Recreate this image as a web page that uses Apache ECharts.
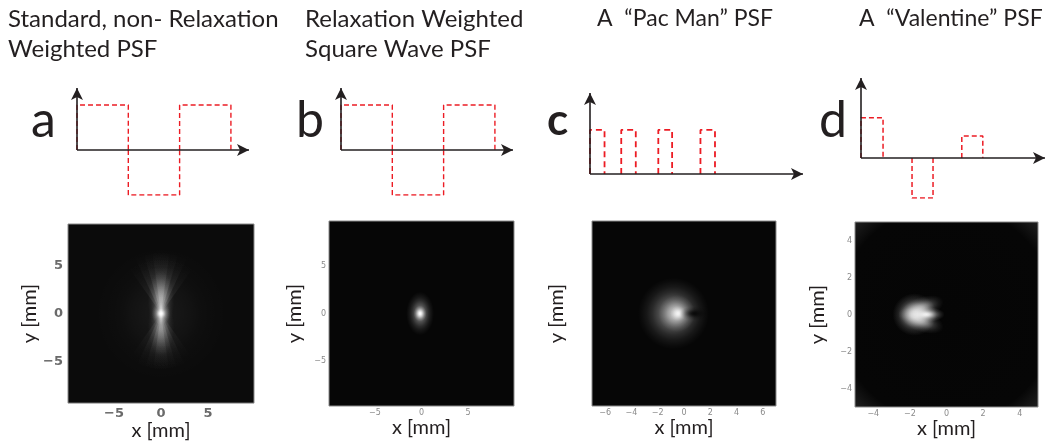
<!DOCTYPE html>
<html>
<head>
<meta charset="utf-8">
<script src="https://cdn.jsdelivr.net/npm/echarts@6/dist/echarts.min.js"></script>
<style>
  html, body { margin: 0; padding: 0; background: #fff; }
  #main { width: 1050px; height: 442px; }
</style>
</head>
<body>
<div id="main"></div>
<script>
// Excitation sequences: [start, end, level] in sequence time units
const pulsesA = [[0, 1, 1], [1, 2, -1], [2, 3, 1]];
const pulsesB = [[0, 1, 1], [1, 2, -1], [2, 3, 1]];
const pulsesC = [[0, 1, 1], [2.15, 3.15, 1], [4.7, 5.65, 1], [7.6, 8.6, 1]];
const pulsesD = [[0, 1.05, 1], [2.43, 3.43, -1], [4.8, 5.8, 0.55]];

// PSF glow components: [x mm, y mm, x radius mm, y radius mm, tilt deg, peak]
const glowA = [
  [0, 0, 7.0, 7.0, 0, 0.06],
  [0, 1.3, 1.4, 3.2, 0, 0.38],
  [0, -1.3, 1.4, 3.2, 0, 0.3],
  [0, 0, 1.0, 1.2, 0, 0.75],
  [0, 0, 0.5, 0.55, 0, 1.0]
];
const glowB = [
  [-0.15, 0, 1.5, 2.3, 0, 0.5],
  [-0.15, 0, 0.7, 0.85, 0, 1.0]
];
const glowC = [
  [-0.8, 0, 2.7, 2.7, 0, 0.5],
  [-0.55, 0, 1.4, 1.4, 0, 0.6],
  [-0.45, 0, 0.6, 0.6, 0, 0.8]
];
const glowD = [
  [-1.75, 0, 1.2, 1.15, 0, 0.75],
  [-1.4, 0.33, 1.3, 0.6, 20, 0.55],
  [-1.4, -0.33, 1.3, 0.6, -20, 0.55],
  [-1.1, 0, 1.0, 0.42, 0, 0.9]
];
// Fan-shaped glows: [x mm, y mm, reach mm, direction deg, half angle deg, peak]
const fanA = [
  [0, 0, 6.5, 90, 8, 0.2], [0, 0, 6.5, 90, 16, 0.19], [0, 0, 6.5, 90, 25, 0.15], [0, 0, 6.0, 90, 35, 0.1],
  [0, 0, 6.0, 270, 8, 0.17], [0, 0, 6.0, 270, 16, 0.15], [0, 0, 6.0, 270, 25, 0.12], [0, 0, 5.5, 270, 35, 0.08]
];
// Dark shading: [x mm, y mm, x radius mm, y radius mm, tilt deg, opacity]
const shadeC = [[0.75, 0, 1.1, 0.55, 0, 0.8]];

// Tick labels
const ticksA = [-5, 0, 5];
const ticksB = [-5, 0, 5];
const ticksCx = [-6, -4, -2, 0, 2, 4, 6];
const ticksD = [-4, -2, 0, 2, 4];

const RED = '#ec1c24';
const INK = '#231f20';
const FONT = 'Lato';

function pulsePath(pulses) {
  const pts = [];
  pulses.forEach(function (p, k) {
    if (k) pts.push(['-', '-']);
    pts.push([p[0], 0], [p[0], p[2]], [p[1], p[2]], [p[1], 0]);
  });
  return pts;
}

// Gaussian-like radial fall-off, as colour stops
const FALLOFF = [[0, 1], [0.15, 0.925], [0.3, 0.73], [0.45, 0.5], [0.6, 0.29], [0.75, 0.14], [0.9, 0.05], [1, 0]];

function stops(rgb, peak) {
  return FALLOFF.map(function (f) {
    return { offset: f[0], color: 'rgba(' + rgb + ',' + (peak * f[1]).toFixed(3) + ')' };
  });
}

function blobRenderer(rgb, blend) {
  return function (params, api) {
    const c = api.coord([api.value(0), api.value(1)]);
    const s = api.size([api.value(2), api.value(3)]);
    const R = 100;
    return {
      type: 'circle',
      x: c[0], y: c[1],
      scaleX: s[0] / R, scaleY: s[1] / R,
      rotation: api.value(4) * Math.PI / 180,
      shape: { cx: 0, cy: 0, r: R },
      style: {
        fill: { type: 'radial', x: 0.5, y: 0.5, r: 0.5, colorStops: stops(rgb, api.value(5)) },
        blend: blend
      },
      silent: true
    };
  };
}

function fanItem(params, api) {
  const c = api.coord([api.value(0), api.value(1)]);
  const sz = api.size([api.value(2), api.value(2)]);
  const r = (sz[0] + sz[1]) / 2;
  const dir = api.value(3), half = api.value(4);
  return {
    type: 'sector',
    shape: {
      cx: c[0], cy: c[1], r0: 0, r: r,
      startAngle: -(dir + half) * Math.PI / 180,
      endAngle: -(dir - half) * Math.PI / 180
    },
    style: {
      fill: { type: 'radial', x: c[0], y: c[1], r: r, global: true, colorStops: stops('255,255,255', api.value(5)) },
      blend: 'lighter'
    },
    silent: true
  };
}

const fmt = function (v) { return v < 0 ? '\u2212' + Math.abs(v) : String(v); };

const diagrams = [
  { pulses: pulsesA, grid: { left: 77, top: 83, width: 177, height: 112 }, x: [0, 3.45], y: [-1, 1.49], dash: [5, 3], lw: 1.4 },
  { pulses: pulsesB, grid: { left: 341, top: 83, width: 177, height: 112 }, x: [0, 3.45], y: [-1, 1.49], dash: [5, 3], lw: 1.4 },
  { pulses: pulsesC, grid: { left: 590, top: 88, width: 218, height: 86 }, x: [0, 15], y: [0, 1.95], dash: [6, 4], lw: 1.8 },
  { pulses: pulsesD, grid: { left: 861, top: 73, width: 189, height: 125 }, x: [0, 9], y: [-1, 2.12], dash: [5, 3], lw: 1.5 }
];

const vignette = new echarts.graphic.RadialGradient(0.5, 0.5, 0.72, [
  { offset: 0, color: '#050505' },
  { offset: 0.82, color: '#060606' },
  { offset: 1, color: '#222222' }
]);

const maps = [
  { glow: glowA, fan: fanA, shade: [], grid: { left: 68, top: 224, width: 186, height: 183 }, x: [-9.9, 9.9], y: [-9.4, 9.4], xt: ticksA, yt: ticksA, big: true, yGap: 20, bg: '#0b0b0b' },
  { glow: glowB, fan: [], shade: [], grid: { left: 329, top: 221, width: 185, height: 185 }, x: [-9.95, 9.95], y: [-9.75, 9.75], xt: ticksB, yt: ticksB, yGap: 24, bg: '#060606' },
  { glow: glowC, fan: [], shade: shadeC, grid: { left: 592, top: 221, width: 184, height: 185 }, x: [-7, 7], y: [-7, 7], xt: ticksCx, yt: null, yGap: 25, bg: '#060606' },
  { glow: glowD, fan: [], shade: [], grid: { left: 855, top: 222, width: 183, height: 185 }, x: [-5, 5], y: [-5, 5], xt: ticksD, yt: ticksD, yGap: 27, bg: vignette }
];

const grids = [], xAxes = [], yAxes = [], series = [];

diagrams.forEach(function (d, i) {
  grids.push(Object.assign({ show: false }, d.grid));
  xAxes.push({ type: 'value', gridIndex: i, min: d.x[0], max: d.x[1], show: false });
  yAxes.push({ type: 'value', gridIndex: i, min: d.y[0], max: d.y[1], show: false });
  series.push({
    type: 'line', xAxisIndex: i, yAxisIndex: i, data: pulsePath(d.pulses),
    symbol: 'none', showSymbol: false, connectNulls: false,
    lineStyle: { color: RED, width: d.lw, type: d.dash },
    z: 2, silent: true, animation: false
  });
  const xEnd = d.x[1] - 5 * (d.x[1] - d.x[0]) / d.grid.width;
  const yEnd = d.y[1] - 5 * (d.y[1] - d.y[0]) / d.grid.height;
  series.push({
    type: 'line', xAxisIndex: i, yAxisIndex: i, data: [[0, 0]],
    symbol: 'none', showSymbol: false, z: 3, silent: true, animation: false,
    markLine: {
      silent: true, animation: false,
      symbol: ['none', 'arrow'], symbolSize: [9, 12],
      label: { show: false },
      emphasis: { disabled: true },
      lineStyle: { color: INK, width: 1.6, type: 'solid' },
      data: [
        [{ coord: [0, 0] }, { coord: [xEnd, 0] }],
        [{ coord: [0, 0] }, { coord: [0, yEnd] }]
      ]
    }
  });
});

maps.forEach(function (m, k) {
  const j = k + 4;
  const lab = m.big
    ? { fontSize: 13, fontWeight: 'bold', color: '#6a6a6a', fontFamily: 'DejaVu Sans' }
    : { fontSize: 8, color: '#8a8a8a', fontFamily: 'DejaVu Sans' };
  grids.push(Object.assign({ show: true, backgroundColor: m.bg, borderColor: '#8a8a8a', borderWidth: 1 }, m.grid));
  xAxes.push({
    type: 'value', gridIndex: j, min: m.x[0], max: m.x[1],
    axisLine: { show: false }, axisTick: { show: false }, splitLine: { show: false },
    axisLabel: Object.assign({ customValues: m.xt, formatter: fmt, margin: m.big ? 4 : 3 }, lab),
    name: 'x [mm]', nameLocation: 'middle', nameGap: 9,
    nameTextStyle: { fontSize: 20, color: INK, fontFamily: FONT, verticalAlign: 'top' }
  });
  yAxes.push({
    type: 'value', gridIndex: j, min: m.y[0], max: m.y[1],
    axisLine: { show: false }, axisTick: { show: false }, splitLine: { show: false },
    axisLabel: m.yt ? Object.assign({ customValues: m.yt, formatter: fmt, margin: m.big ? 5 : 3 }, lab) : { show: false },
    name: 'y [mm]', nameLocation: 'middle', nameGap: m.yGap, nameRotate: 90,
    nameTextStyle: { fontSize: 20, color: INK, fontFamily: FONT }
  });
  if (m.fan.length) {
    series.push({
      type: 'custom', xAxisIndex: j, yAxisIndex: j, data: m.fan,
      renderItem: fanItem, clip: true, silent: true, animation: false, z: 2
    });
  }
  series.push({
    type: 'custom', xAxisIndex: j, yAxisIndex: j, data: m.glow,
    renderItem: blobRenderer('255,255,255', 'lighter'), clip: true, silent: true, animation: false, z: 3
  });
  if (m.shade.length) {
    series.push({
      type: 'custom', xAxisIndex: j, yAxisIndex: j, data: m.shade,
      renderItem: blobRenderer('0,0,0', 'source-over'), clip: true, silent: true, animation: false, z: 4
    });
  }
});

function label(text, x, y, size, weight) {
  return {
    type: 'text', x: x, y: y, silent: true,
    style: { text: text, fill: INK, fontFamily: FONT, fontSize: size, fontWeight: weight || 'normal', verticalAlign: 'middle', align: 'left' }
  };
}

const graphics = [
  label('Standard, non- Relaxation', 8, 19, 24),
  label('Weighted PSF', 8, 49, 24),
  label('Relaxation Weighted', 305, 19, 24),
  label('Square Wave PSF', 305, 49, 24),
  label('A  \u201cPac Man\u201d PSF', 597, 19, 23),
  label('A  \u201cValentine\u201d PSF', 859, 19, 23),
  label('a', 31, 121, 50),
  label('b', 296, 121, 50),
  label('c', 547, 121, 44, 'bold'),
  label('d', 819, 121, 50)
];

const chart = echarts.init(document.getElementById('main'), null, { renderer: 'canvas' });
chart.setOption({
  backgroundColor: '#ffffff',
  animation: false,
  grid: grids,
  xAxis: xAxes,
  yAxis: yAxes,
  series: series,
  graphic: graphics
});
</script>
</body>
</html>
